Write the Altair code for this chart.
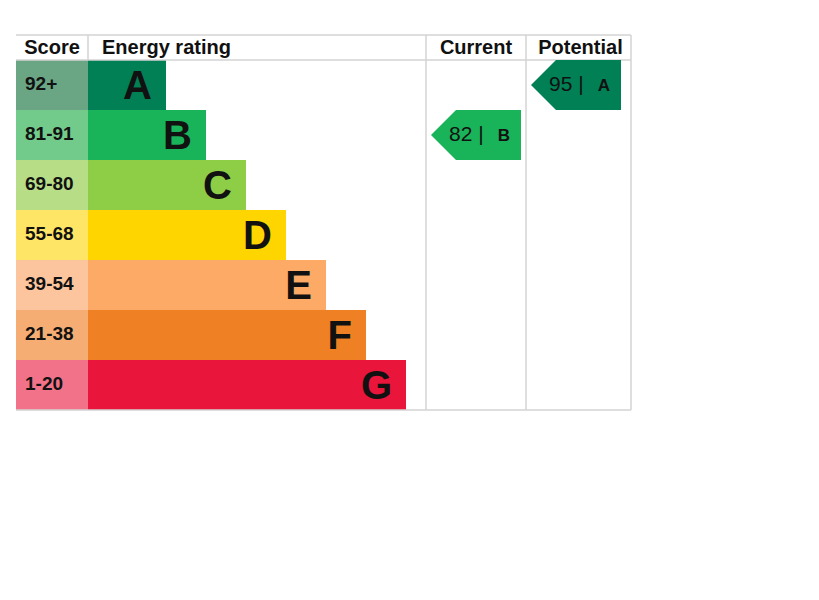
import altair as alt
import pandas as pd

# ---- data ----
ratings = ["A", "B", "C", "D", "E", "F", "G"]
score_ranges = ["92+", "81-91", "69-80", "55-68", "39-54", "21-38", "1-20"]
band_colors = ["#008054", "#19b459", "#8dce46", "#ffd500", "#fcaa65", "#ef8023", "#e9153b"]
score_colors = ["#6aa584", "#72cb8b", "#b7dd87", "#ffe566", "#fdc59e", "#f5ad74", "#f27289"]
headers = ["Score", "Energy rating", "Current", "Potential"]
current_value, current_rating = 82, "B"
potential_value, potential_rating = 95, "A"

# ---- layout (chart units == pixels) ----
col_edges = [0, 72, 410, 510, 615]
header_h = 25
row_h = 50
W, H = col_edges[-1], header_h + row_h * len(ratings)
FONT = "Liberation Sans"

xs = alt.Scale(domain=[0, W], range=[0, W])
ys = alt.Scale(domain=[0, H], range=[0, H])

rows = []
for i, r in enumerate(ratings):
    y0 = header_h + i * row_h
    rows.append(dict(
        rating=r, score=score_ranges[i], band=band_colors[i], scol=score_colors[i],
        y0=y0, y1=y0 + row_h, ym=y0 + row_h / 2,
        sx0=col_edges[0], sx1=col_edges[1],
        bx0=col_edges[1], bx1=col_edges[1] + 78 + 40 * i,
    ))
rows = pd.DataFrame(rows)
rows["lx"] = rows["bx1"] - 14
rows["tx"] = col_edges[0] + 9

X = lambda f: alt.X(f, type="quantitative", scale=xs, axis=None)
Y = lambda f: alt.Y(f, type="quantitative", scale=ys, axis=None)

score_cells = alt.Chart(rows).mark_rect().encode(
    x=X("sx0"), x2="sx1", y=Y("y0"), y2="y1",
    color=alt.Color("scol:N", scale=None))
bars = alt.Chart(rows).mark_rect().encode(
    x=X("bx0"), x2="bx1", y=Y("y0"), y2="y1",
    color=alt.Color("band:N", scale=None))
score_text = alt.Chart(rows).mark_text(
    align="left", baseline="middle", font=FONT, fontSize=19, fontWeight="bold", color="#111", dy=-1
).encode(x=X("tx"), y=Y("ym"), text="score:N")
letter_text = alt.Chart(rows).mark_text(
    align="right", baseline="middle", font=FONT, fontSize=40, fontWeight="bold", color="#111", dy=2
).encode(x=X("lx"), y=Y("ym"), text="rating:N")

# headers
hdr = pd.DataFrame(dict(
    text=headers,
    x=[(col_edges[0] + col_edges[1]) / 2, col_edges[1] + 14,
       (col_edges[2] + col_edges[3]) / 2, (col_edges[3] + col_edges[4]) / 2 + 2],
    al=["center", "left", "center", "center"],
    y=[header_h / 2] * 4,
))
hdr_c = alt.Chart(hdr[hdr["al"] == "center"]).mark_text(
    align="center", baseline="middle", font=FONT, fontSize=20, fontWeight="bold", color="#111"
).encode(x=X("x"), y=Y("y"), text="text:N")
hdr_l = alt.Chart(hdr[hdr["al"] == "left"]).mark_text(
    align="left", baseline="middle", font=FONT, fontSize=20, fontWeight="bold", color="#111"
).encode(x=X("x"), y=Y("y"), text="text:N")

# grid lines
lines = pd.DataFrame([
    dict(x=col_edges[0], x2=col_edges[4], y=0, y2=0),
    dict(x=col_edges[0], x2=col_edges[4], y=header_h, y2=header_h),
    dict(x=col_edges[0], x2=col_edges[4], y=H, y2=H),
    dict(x=col_edges[1], x2=col_edges[1], y=0, y2=header_h),
    dict(x=col_edges[2], x2=col_edges[2], y=0, y2=H),
    dict(x=col_edges[3], x2=col_edges[3], y=0, y2=H),
    dict(x=col_edges[4], x2=col_edges[4], y=0, y2=H),
])
grid = alt.Chart(lines).mark_rule(color="#d3d3d3", strokeWidth=1.5).encode(
    x=X("x"), x2="x2", y=Y("y"), y2="y2")

# arrows
def arrow_pts(name, value, rating, col_left):
    i = ratings.index(rating)
    y0 = header_h + i * row_h
    ym = y0 + row_h / 2
    c = band_colors[i]
    tip, sh, right = col_left + 5, col_left + 30, col_left + 95
    return [
        dict(which=name, color=c, x=tip, y=ym, y2=ym),
        dict(which=name, color=c, x=sh, y=y0, y2=y0 + row_h),
        dict(which=name, color=c, x=right, y=y0, y2=y0 + row_h),
    ]

arrow_df = pd.DataFrame(
    arrow_pts("current", current_value, current_rating, col_edges[2])
    + arrow_pts("potential", potential_value, potential_rating, col_edges[3])
)
arrows = alt.Chart(arrow_df).mark_area(interpolate="linear", orient="vertical").encode(
    x=X("x"), y=Y("y"), y2="y2",
    color=alt.Color("color:N", scale=None), detail="which:N")

lab = []
for name, v, r, cl in [("current", current_value, current_rating, col_edges[2]),
                       ("potential", potential_value, potential_rating, col_edges[3])]:
    i = ratings.index(r)
    ym = header_h + i * row_h + row_h / 2
    lab.append(dict(num=f"{v} |", letter=r, nx=cl + 23, lx=cl + 94 - 16, ym=ym))
lab = pd.DataFrame(lab)
num_text = alt.Chart(lab).mark_text(
    align="left", baseline="middle", font=FONT, fontSize=21, color="#111"
).encode(x=X("nx"), y=Y("ym"), text="num:N")
let_text = alt.Chart(lab).mark_text(
    align="center", baseline="middle", font=FONT, fontSize=17, fontWeight="bold", color="#111", dy=1
).encode(x=X("lx"), y=Y("ym"), text="letter:N")

chart = alt.layer(
    score_cells, bars, grid, arrows, score_text, letter_text, hdr_c, hdr_l, num_text, let_text
).properties(
    width=W, height=H,
    autosize=alt.AutoSizeParams(type="none"),
    padding={"left": 8, "top": 27, "right": 5, "bottom": 5},
).configure_view(stroke=None)

chart.save("out.html", embed_options={"renderer": "svg", "actions": False})
